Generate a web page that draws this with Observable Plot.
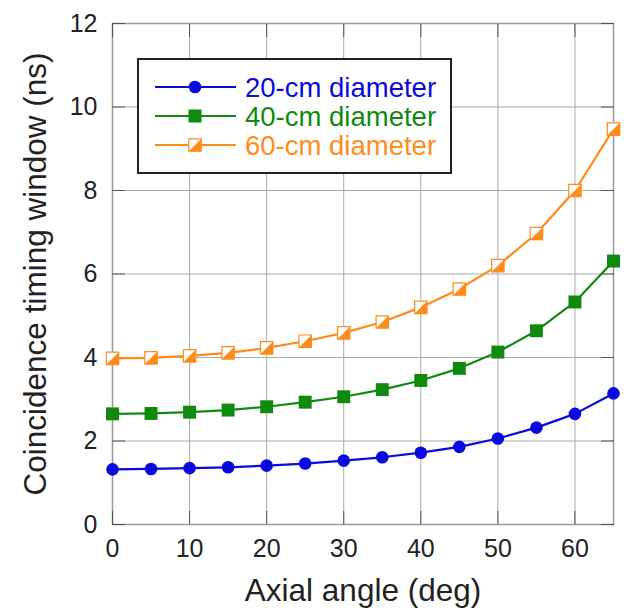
<!DOCTYPE html>
<html><head><meta charset="utf-8">
<script src="https://cdn.jsdelivr.net/npm/d3@7"></script>
<script src="https://cdn.jsdelivr.net/npm/@observablehq/plot@0.6"></script>
<style>
body{margin:0;background:#fff;}
#wrap{position:relative;width:629px;height:616px;font-family:"Liberation Sans",Arial,sans-serif;}
#legend{position:absolute;left:137px;top:58px;width:311px;height:112px;border:2px solid #222;background:#fff;}
</style></head><body><div id="wrap"></div>
<script>
const angles = [0,5,10,15,20,25,30,35,40,45,50,55,60,65];
const d20 = [1.32,1.33,1.35,1.37,1.41,1.46,1.53,1.61,1.72,1.86,2.06,2.32,2.65,3.14];
const d40 = [2.65,2.66,2.69,2.74,2.82,2.93,3.06,3.23,3.45,3.74,4.13,4.64,5.33,6.31];
const d60 = [3.98,3.99,4.04,4.11,4.23,4.39,4.59,4.85,5.2,5.64,6.2,6.97,8.0,9.47];
const seriesNames = ["20-cm diameter","40-cm diameter","60-cm diameter"];
const seriesColors = ["#0a0ae0","#0f8a0f","#ff8c1a"];
const xTicks = [0,10,20,30,40,50,60];
const yTicks = [0,2,4,6,8,10,12];

const rows = [];
[d20,d40,d60].forEach((arr,i)=>arr.forEach((v,j)=>rows.push({series:seriesNames[i], angle:angles[j], value:v})));
const r20 = rows.filter(d=>d.series===seriesNames[0]);
const r40 = rows.filter(d=>d.series===seriesNames[1]);
const r60 = rows.filter(d=>d.series===seriesNames[2]);

const halfSquare = {draw(ctx,size){const s=Math.sqrt(size)/2; ctx.moveTo(s,-s); ctx.lineTo(s,s); ctx.lineTo(-s,s); ctx.closePath();}};

const chart = Plot.plot({
  width:629, height:616,
  marginLeft:112, marginRight:16, marginTop:23, marginBottom:92,
  style:{fontFamily:'"Liberation Sans",Arial,sans-serif', background:"#fff", color:"#222"},
  x:{domain:[0,65]},
  y:{domain:[0,12]},
  color:{domain:seriesNames, range:seriesColors},
  marks:[
    Plot.gridX(xTicks,{stroke:"#aaa", strokeOpacity:1, strokeWidth:1}),
    Plot.gridY(yTicks,{stroke:"#aaa", strokeOpacity:1, strokeWidth:1}),
    Plot.frame({stroke:"#999", strokeWidth:1.5}),
    Plot.axisX(xTicks,{tickSize:-13, tickPadding:28, fontSize:25, stroke:"#555", label:null}),
    Plot.axisX(xTicks,{anchor:"top", tickSize:-13, tickFormat:()=>"", stroke:"#555", label:null}),
    Plot.axisY(yTicks,{tickSize:-13, tickPadding:28, fontSize:25, stroke:"#555", label:null}),
    Plot.axisY(yTicks,{anchor:"right", tickSize:-13, tickFormat:()=>"", stroke:"#555", label:null}),
    Plot.text(["Axial angle (deg)"],{frameAnchor:"bottom", dy:76, fontSize:31.5, fill:"#222"}),
    Plot.text(["Coincidence timing window (ns)"],{frameAnchor:"left", textAnchor:"middle", rotate:-90, dx:-77, fontSize:31.5, fill:"#222"}),
    Plot.line(rows,{x:"angle", y:"value", z:"series", stroke:"series", strokeWidth:2.2}),
    Plot.dot(r20,{x:"angle", y:"value", fill:"series", r:6.3, symbol:"circle"}),
    Plot.dot(r40,{x:"angle", y:"value", fill:"series", r:7.3, symbol:"square"}),
    Plot.dot(r60,{x:"angle", y:"value", fill:"#fff", stroke:"series", strokeWidth:1.2, r:7.0, symbol:"square"}),
    Plot.dot(r60,{x:"angle", y:"value", fill:"series", r:7.0, symbol:halfSquare})
  ]
});
const wrap = document.getElementById("wrap");
wrap.appendChild(chart);

// legend
const lg = document.createElement("div");
lg.id = "legend";
const ns = "http://www.w3.org/2000/svg";
const svg = document.createElementNS(ns,"svg");
svg.setAttribute("width",311); svg.setAttribute("height",112);
const rowY = [27,56,85];
seriesNames.forEach((name,i)=>{
  const c = seriesColors[i], y = rowY[i];
  const line = document.createElementNS(ns,"line");
  line.setAttribute("x1",16); line.setAttribute("x2",97); line.setAttribute("y1",y); line.setAttribute("y2",y);
  line.setAttribute("stroke",c); line.setAttribute("stroke-width",2.2);
  svg.appendChild(line);
  if(i===0){
    const e=document.createElementNS(ns,"circle"); e.setAttribute("cx",56); e.setAttribute("cy",y); e.setAttribute("r",6.3); e.setAttribute("fill",c); svg.appendChild(e);
  } else if(i===1){
    const e=document.createElementNS(ns,"rect"); e.setAttribute("x",56-6.5); e.setAttribute("y",y-6.5); e.setAttribute("width",13); e.setAttribute("height",13); e.setAttribute("fill",c); svg.appendChild(e);
  } else {
    const e=document.createElementNS(ns,"rect"); e.setAttribute("x",56-6.2); e.setAttribute("y",y-6.2); e.setAttribute("width",12.4); e.setAttribute("height",12.4); e.setAttribute("fill","#fff"); e.setAttribute("stroke",c); e.setAttribute("stroke-width",1.2); svg.appendChild(e);
    const p=document.createElementNS(ns,"path"); p.setAttribute("d",`M${56+6.2},${y-6.2}L${56+6.2},${y+6.2}L${56-6.2},${y+6.2}Z`); p.setAttribute("fill",c); svg.appendChild(p);
  }
  const t=document.createElementNS(ns,"text");
  t.setAttribute("x",106); t.setAttribute("y",y); t.setAttribute("dy","0.36em");
  t.setAttribute("fill",c); t.setAttribute("font-size",27.5);
  t.setAttribute("font-family",'"Liberation Sans",Arial,sans-serif');
  t.textContent = name;
  svg.appendChild(t);
});
lg.appendChild(svg);
wrap.appendChild(lg);
</script>
</body></html>
